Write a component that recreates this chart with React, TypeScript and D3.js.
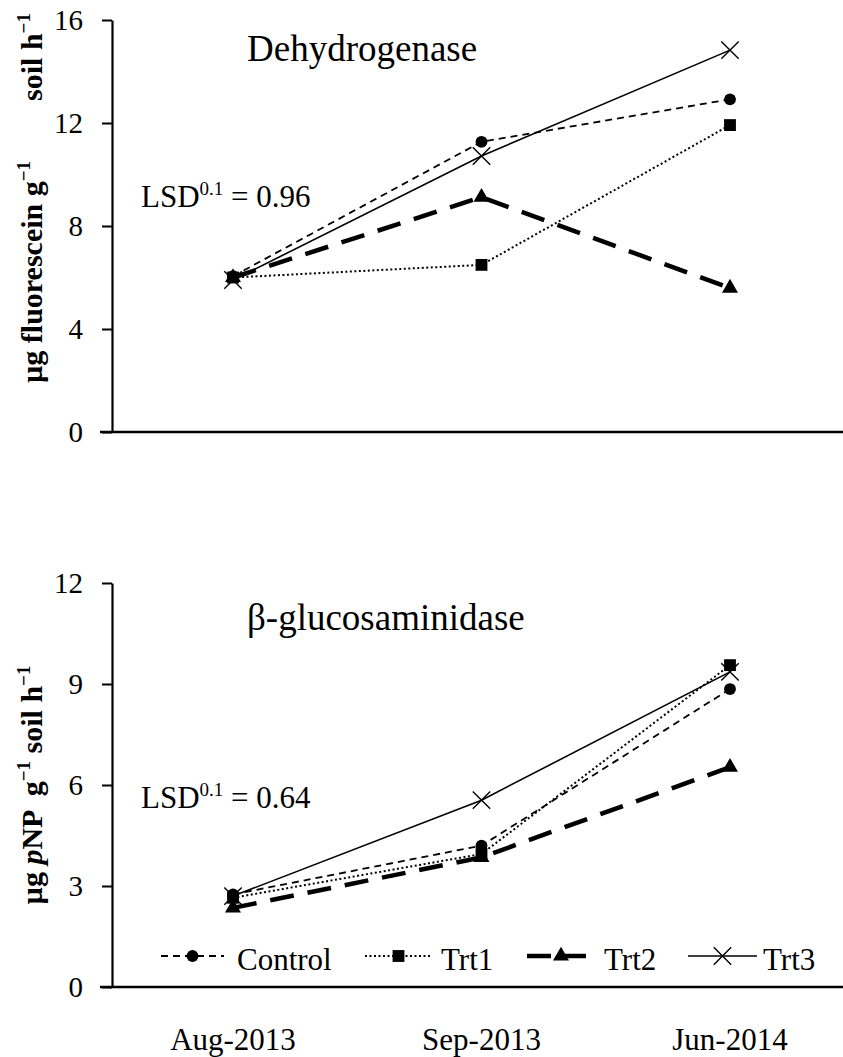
import React, { useEffect, useRef } from "react";
import * as d3 from "d3";

// categories
const dates = ["Aug-2013", "Sep-2013", "Jun-2014"];
const seriesNames = ["Control", "Trt1", "Trt2", "Trt3"];

// Dehydrogenase (µg fluorescein g-1 soil h-1)
const dehControl = [6.05, 11.27, 12.92];
const dehTrt1 = [6.0, 6.49, 11.92];
const dehTrt2 = [6.0, 9.12, 5.59];
const dehTrt3 = [5.9, 10.72, 14.83];
const dehTicks = [0, 4, 8, 12, 16];

// β-glucosaminidase (µg pNP g-1 soil h-1)
const glcControl = [2.75, 4.2, 8.85];
const glcTrt1 = [2.65, 3.95, 9.56];
const glcTrt2 = [2.35, 3.85, 6.53];
const glcTrt3 = [2.7, 5.55, 9.36];
const glcTicks = [0, 3, 6, 9, 12];

const FONT = "'Liberation Serif', 'Times New Roman', serif";

// line / marker styles per series
const styles = [
  { dash: "7,5", width: 1.8, symbol: d3.symbolCircle, size: 110, fill: "#000", stroke: "none" },
  { dash: "2,2.5", width: 2, symbol: d3.symbolSquare, size: 140, fill: "#000", stroke: "none" },
  { dash: "24,14", width: 4.5, symbol: d3.symbolTriangle, size: 110, fill: "#000", stroke: "none" },
  { dash: null, width: 1.6, symbol: d3.symbolX, size: 200, fill: "none", stroke: "#000" },
];

const App = () => {
  const ref = useRef<SVGSVGElement>(null);

  useEffect(() => {
    const svg = d3.select(ref.current);
    svg.selectAll("*").remove();

    const x = d3.scalePoint().domain(dates).range([233, 730]);

    const drawPanel = (opts) => {
      const { top, bottom, max, ticks, series, title, lsd, titleY, lsdY } = opts;
      const y = d3.scaleLinear().domain([0, max]).range([bottom, top]);
      const g = svg.append("g");

      // y axis
      const ya = g.append("g")
        .attr("transform", "translate(112,0)")
        .call(d3.axisLeft(y).tickValues(ticks).tickSize(10).tickSizeOuter(0).tickPadding(19));
      ya.select(".domain").attr("stroke-width", 2.2);
      ya.selectAll(".tick line").attr("stroke-width", 2);
      ya.selectAll(".tick text")
        .attr("font-family", FONT)
        .attr("font-size", 29)
        .attr("fill", "#000");

      // x axis line
      g.append("line")
        .attr("x1", 100).attr("x2", 843)
        .attr("y1", bottom).attr("y2", bottom)
        .attr("stroke", "#000").attr("stroke-width", 2.5);

      // series lines
      series.forEach((vals, i) => {
        const st = styles[i];
        const line = d3.line<number>()
          .x((d, j) => x(dates[j]))
          .y((d) => y(d));
        g.append("path")
          .attr("d", line(vals))
          .attr("fill", "none")
          .attr("stroke", "#000")
          .attr("stroke-width", st.width)
          .attr("stroke-dasharray", st.dash);
        g.selectAll(null)
          .data(vals)
          .enter()
          .append("path")
          .attr("transform", (d, j) => `translate(${x(dates[j])},${y(d)})`)
          .attr("d", d3.symbol().type(st.symbol).size(st.size)())
          .attr("fill", st.fill)
          .attr("stroke", st.stroke)
          .attr("stroke-width", 1.4);
      });

      // title
      g.append("text")
        .attr("x", 247).attr("y", titleY)
        .attr("font-family", FONT).attr("font-size", 37)
        .text(title);

      // LSD label
      const t = g.append("text")
        .attr("x", 141).attr("y", lsdY)
        .attr("font-family", FONT).attr("font-size", 31);
      t.append("tspan").text("LSD");
      t.append("tspan").attr("font-size", 19).attr("dy", -12).text("0.1");
      t.append("tspan").attr("dy", 12).text(" = " + lsd);
    };

    drawPanel({
      top: 20, bottom: 432, max: 16, ticks: dehTicks,
      series: [dehControl, dehTrt1, dehTrt2, dehTrt3],
      title: "Dehydrogenase", lsd: "0.96", titleY: 61, lsdY: 207,
    });
    drawPanel({
      top: 583, bottom: 987, max: 12, ticks: glcTicks,
      series: [glcControl, glcTrt1, glcTrt2, glcTrt3],
      title: "β-glucosaminidase", lsd: "0.64", titleY: 630, lsdY: 808,
    });

    // x axis labels
    svg.append("g")
      .selectAll("text")
      .data(dates)
      .enter()
      .append("text")
      .attr("x", (d) => x(d))
      .attr("y", 1050)
      .attr("text-anchor", "middle")
      .attr("font-family", FONT)
      .attr("font-size", 31)
      .text((d) => d);

    // y axis titles
    const yTitle = (cy, parts) => {
      const t = svg.append("text")
        .attr("transform", `translate(42,${cy}) rotate(-90)`)
        .attr("text-anchor", "middle")
        .attr("font-family", FONT)
        .attr("font-size", 30)
        .attr("font-weight", "bold")
        .attr("xml:space", "preserve")
        .style("white-space", "pre");
      parts.forEach((p) => {
        const s = t.append("tspan").text(p.text);
        if (p.sup) s.attr("font-size", 19).attr("dy", -12);
        if (p.down) s.attr("dy", 12);
        if (p.italic) s.attr("font-style", "italic");
      });
    };
    yTitle(198, [
      { text: "µg fluorescein g" },
      { text: "−1", sup: true },
      { text: "        soil h", down: true },
      { text: "−1", sup: true },
    ]);
    yTitle(785, [
      { text: "µg " },
      { text: "p", italic: true },
      { text: "NP  g" },
      { text: "−1", sup: true },
      { text: " soil h", down: true },
      { text: "−1", sup: true },
    ]);

    // legend
    const legendItems = [
      { x1: 161, x2: 224, tx: 237 },
      { x1: 365, x2: 432, tx: 441 },
      { x1: 527, x2: 595, tx: 604 },
      { x1: 688, x2: 757, tx: 763 },
    ];
    const lg = svg.append("g");
    seriesNames.forEach((name, i) => {
      const st = styles[i];
      const it = legendItems[i];
      const ly = 956;
      lg.append("line")
        .attr("x1", it.x1).attr("x2", it.x2)
        .attr("y1", ly).attr("y2", ly)
        .attr("stroke", "#000")
        .attr("stroke-width", st.width)
        .attr("stroke-dasharray", i === 2 ? "24,11" : st.dash);
      lg.append("path")
        .attr("transform", `translate(${(it.x1 + it.x2) / 2},${ly})`)
        .attr("d", d3.symbol().type(st.symbol).size(st.size)())
        .attr("fill", st.fill)
        .attr("stroke", st.stroke)
        .attr("stroke-width", 1.4);
      lg.append("text")
        .attr("x", it.tx).attr("y", ly + 14)
        .attr("font-family", FONT).attr("font-size", 31)
        .text(name);
    });
  }, []);

  return (
    <svg
      ref={ref}
      width={843}
      height={1057}
      style={{ position: "absolute", left: 0, top: 0, background: "#fff" }}
    />
  );
};

export default App;
